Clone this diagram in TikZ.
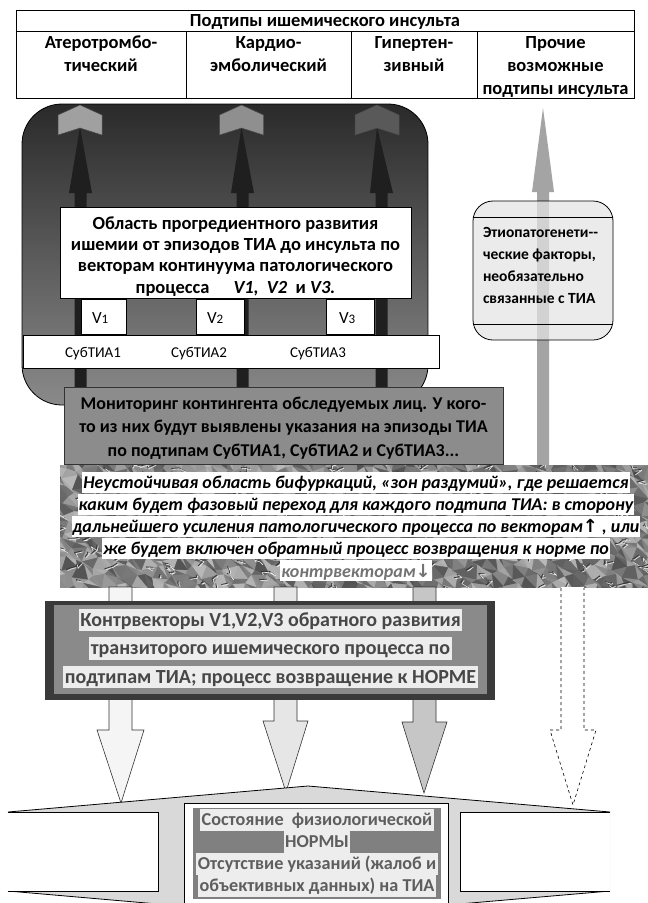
\documentclass[tikz,border=0pt]{standalone}
\usepackage{fontspec}
\setmainfont{Carlito}
\newfontfamily\arrowfont{DejaVu Sans}
\usetikzlibrary{calc}
\definecolor{darktop}{HTML}{2A2A2A}
\definecolor{darkbot}{HTML}{8A8A8A}
\definecolor{monfill}{HTML}{8C8C8C}
\definecolor{cvframe}{HTML}{3A3A3A}
\definecolor{cvfill}{HTML}{8A8A8A}
\definecolor{hlgray}{HTML}{EDEDED}
\definecolor{cvtext}{HTML}{474747}
\definecolor{normtext}{HTML}{5E5E5E}
\definecolor{normgray}{HTML}{808080}
\definecolor{beam}{HTML}{D9D9D9}
\definecolor{tallarrow}{HTML}{A4A4A4}
\definecolor{etiofill}{HTML}{E4E4E4}
\definecolor{chevA}{HTML}{A0A0A0}
\definecolor{chevB}{HTML}{8F8F8F}
\definecolor{chevC}{HTML}{595959}
\definecolor{arrA}{HTML}{F5F5F5}
\definecolor{arrB}{HTML}{E6E6E6}
\definecolor{arrC}{HTML}{C6C6C6}
\newcommand\fsz[2]{\fontsize{#1}{#2}\selectfont}
\newcommand\hlrock[1]{{\setlength\fboxsep{0pt}\colorbox{white}{\rule[-4.3pt]{0pt}{21pt}\hspace{1pt}#1\hspace{1pt}}}}
\newcommand\hlcv[1]{{\setlength\fboxsep{0pt}\colorbox{hlgray}{\rule[-4.8pt]{0pt}{22.5pt}\hspace{1.5pt}#1\hspace{1.5pt}}}}
\newcommand\hlnorm[1]{{\setlength\fboxsep{0pt}\colorbox{hlgray}{\rule[-5.5pt]{0pt}{22pt}\hspace{1.5pt}#1\hspace{1.5pt}}}}
\begin{document}
\begin{tikzpicture}[x=1pt,y=-1pt,
  every node/.style={inner sep=0pt, outer sep=0pt},
  cell/.style={anchor=north, align=center, font=\fsz{18.5}{23}\bfseries},
  whitebox/.style={draw, line width=0.8pt, fill=white},
  vlabel/.style={anchor=base west, font=\fsz{17}{17}},
  sublabel/.style={anchor=base, font=\fsz{15}{15}},
  thinline/.style={line width=0.8pt}]
\useasboundingbox (0,0) rectangle (648,903);
\fill[white] (0,0) rectangle (648,903);
\begin{scope}
\clip (0,0) rectangle (648,903);
% ---------- table ----------
\draw[thinline] (16,10) rectangle (634,98);
\draw[thinline] (16,31) -- (634,31) (186,31) -- (186,98) (351,31) -- (351,98) (477,31) -- (477,98);
\node[font=\fsz{18.5}{23}\bfseries, anchor=base] (hdr) at (325,26.5) {Подтипы ишемического инсульта};
\node[cell] (c1) at (101,31.9) {\strut Атеротромбо-\\тический};
\node[cell] (c2) at (268.5,31.9) {\strut Кардио-\\эмболический};
\node[cell] (c3) at (414,31.9) {\strut Гипертен-\\зивный};
\node[cell] (c4) at (555.5,31.9) {\strut Прочие\\возможные\\подтипы инсульта};
% ---------- tall gray arrow and etiopathogenetic box ----------
\fill[tallarrow] (543,108) -- (554,192) -- (549,192) -- (549,465) -- (537,465) -- (537,192) -- (532,192) -- cycle;
\filldraw[fill=etiofill, fill opacity=0.72, draw=black, thinline, rounded corners=20pt] (473,201) rectangle (613,340);
\draw[thinline] (473.4,217) -- (612.6,217) (473.4,324) -- (612.6,324);
\node[anchor=north west, align=left, font=\fsz{15.5}{22}\bfseries] (etio) at (483,221.6) {\strut Этиопатогенети-{}-\\ческие факторы,\\необязательно\\связанные с ТИА};
% ---------- dark rounded region ----------
\shade[top color=darktop, bottom color=darkbot, rounded corners=40pt] (22,104) rectangle (428,405);
\draw[thinline, rounded corners=40pt] (22,104) rectangle (428,405);
\foreach \cx/\sx in {80/80.5, 241.5/242.5, 377/381.5} {
  \fill[black!88] (\cx,127) -- (\sx+11.5,193) -- (\sx+6,193) -- (\sx+6,405) -- (\sx-6,405) -- (\sx-6,193) -- (\sx-11.5,193) -- cycle;
}
\foreach \cx/\col in {80/chevA, 241.5/chevB, 377/chevC} {
  \filldraw[fill=\col, draw=black!70, line width=0.5pt] (\cx,105) -- (\cx+22,115) -- (\cx+22,135) -- (\cx,128) -- (\cx-22,135) -- (\cx-22,115) -- cycle;
}
\node[whitebox, minimum width=351pt, minimum height=91pt] (obl) at (235.5,252.5) {};
\node[anchor=north, align=center, font=\fsz{18.5}{21.3}\bfseries] (obltext) at (235.5,214.4)
  {\strut Область прогредиентного развития\\ишемии от эпизодов ТИА до инсульта по\\векторам континуума патологического\\процесса\hspace{1.3em}\textit{V1,\ \ V2}\ \ и \textit{V3.}};
\node[whitebox, minimum width=45pt, minimum height=35pt] (v1) at (103.5,316.5) {};
\node[whitebox, minimum width=48pt, minimum height=35pt] (v2) at (220,316.5) {};
\node[whitebox, minimum width=48pt, minimum height=35pt] (v3) at (350,316.5) {};
\node[vlabel] (v1t) at (92,323.5) {V{\fsz{13}{13}1}};
\node[vlabel] (v2t) at (207,323.5) {V{\fsz{13}{13}2}};
\node[vlabel] (v3t) at (339,323.5) {V{\fsz{13}{13}3}};
\node[whitebox, minimum width=416pt, minimum height=33pt] (subbar) at (231,351.5) {};
\node[sublabel] (s1) at (93,357) {СубТИА1};
\node[sublabel] (s2) at (199,357) {СубТИА2};
\node[sublabel] (s3) at (318,357) {СубТИА3};
% ---------- monitoring ----------
\node[draw=black!80, thinline, fill=monfill, minimum width=439pt, minimum height=77pt] (mon) at (283.5,425.5) {};
\node[anchor=north, align=center, font=\fsz{18}{23.5}\bfseries] (montext) at (283.5,392.8)
  {\strut Мониторинг контингента обследуемых лиц. У кого-\\то из них будут выявлены указания на эпизоды ТИА\\по подтипам СубТИА1, СубТИА2 и СубТИА3...};
% ---------- rock band (crumpled texture) ----------
\begin{scope}
\clip (60,465) rectangle (648,587);
\fill[black!50] (60,465) rectangle (648,587);
\pgfmathsetseed{42}
\foreach \i in {0,...,60}{
  \foreach \j in {0,...,14}{
    \pgfmathsetmacro\xa{55+10*\i+3.5*sin(\i*137.3+\j*251.1)}
    \pgfmathsetmacro\ya{460+9*\j+3*cos(\i*91.7+\j*173.9)}
    \pgfmathsetmacro\xb{55+10*(\i+1)+3.5*sin((\i+1)*137.3+\j*251.1)}
    \pgfmathsetmacro\yb{460+9*\j+3*cos((\i+1)*91.7+\j*173.9)}
    \pgfmathsetmacro\xc{55+10*\i+3.5*sin(\i*137.3+(\j+1)*251.1)}
    \pgfmathsetmacro\yc{460+9*(\j+1)+3*cos(\i*91.7+(\j+1)*173.9)}
    \pgfmathsetmacro\xd{55+10*(\i+1)+3.5*sin((\i+1)*137.3+(\j+1)*251.1)}
    \pgfmathsetmacro\yd{460+9*(\j+1)+3*cos((\i+1)*91.7+(\j+1)*173.9)}
    \pgfmathtruncatemacro\ga{28+40*rnd}
    \pgfmathtruncatemacro\gb{28+40*rnd}
    \filldraw[fill=black!\ga, draw=black!\ga, line width=0.3pt] (\xa,\ya) -- (\xb,\yb) -- (\xd,\yd) -- cycle;
    \filldraw[fill=black!\gb, draw=black!\gb, line width=0.3pt] (\xa,\ya) -- (\xd,\yd) -- (\xc,\yc) -- cycle;
  }
}
\foreach \k in {1,...,260}{
  \pgfmathsetmacro\xa{55+600*rnd}
  \pgfmathsetmacro\ya{460+132*rnd}
  \pgfmathsetmacro\dxa{-8+16*rnd}
  \pgfmathsetmacro\dya{-5+10*rnd}
  \pgfmathsetmacro\dxb{-8+16*rnd}
  \pgfmathsetmacro\dyb{-5+10*rnd}
  \draw[black!78, line width=0.8pt, line join=round, line cap=round] (\xa,\ya) -- ++(\dxa,\dya) -- ++(\dxb,\dyb);
  \draw[white!85!gray, line width=0.6pt, line join=round, line cap=round] (\xa+1.2,\ya+1) -- ++(\dxa,\dya) -- ++(\dxb,\dyb);
}
\end{scope}
\node[anchor=north, align=center, font=\fsz{18}{22.2}\bfseries\itshape] (bif) at (356,471.6)
  {\hlrock{Неустойчивая область бифуркаций, «зон раздумий», где решается}\\
   \hlrock{каким будет фазовый переход для каждого подтипа ТИА: в сторону}\\
   \hlrock{дальнейшего усиления патологического процесса по векторам{\arrowfont ↑} , или}\\
   \hlrock{же будет включен обратный процесс возвращения к норме по}\\
   \hlrock{\textcolor{black!55}{контрвекторам{\arrowfont ↓}}}};
% ---------- down arrows ----------
\foreach \l/\r/\ha/\hb/\hy/\tx/\ty/\col in {109/132/97/144/730/121/803/arrA, 274/297/263/308/721/286/792/arrB, 413/436/402/447/722/424/793/arrC} {
  \filldraw[fill=\col, draw=black!80, line width=0.6pt, line join=miter] (\l,587) -- (\r,587) -- (\r,\hy) -- (\hb,\hy) -- (\tx,\ty) -- (\ha,\hy) -- (\l,\hy) -- cycle;
}
\fill[white] (561,587) -- (584,587) -- (584,730) -- (596,730) -- (573,805) -- (550,730) -- (561,730) -- cycle;
\draw[black, dashed, line width=0.6pt] (561,588) -- (561,730) -- (550,730) -- (573,805) -- (596,730) -- (584,730) -- (584,588);
% ---------- contrvectors ----------
\node[fill=cvframe, minimum width=450pt, minimum height=99pt] (cvbox) at (270,650.5) {};
\node[fill=cvfill, minimum width=433pt, minimum height=89pt] (cvinner) at (270.5,649.5) {};
\node[anchor=north, align=center, font=\fsz{20}{28.5}\bfseries, text=cvtext] (cvtext) at (270.5,608.7)
  {\hlcv{Контрвекторы V1,V2,V3 обратного развития}\\
   \hlcv{транзиторого ишемического процесса по}\\
   \hlcv{подтипам ТИА; процесс возвращение к НОРМЕ}};
% ---------- bottom beam ----------
\fill[beam] (8,812) -- (308,786) -- (610,812) -- (610,891) -- (308,917) -- (8,891) -- cycle;
\draw[thinline] (8,812) -- (308,786) -- (610,812);
\draw[thinline] (8,891) -- (308,917) -- (610,891);
\fill[white] (8,812) rectangle (158,891);
\draw[thinline] (8,812) -- (158,812) -- (158,891) -- (8,891);
\fill[white] (460,812) rectangle (610,891);
\draw[thinline] (610,812) -- (460,812) -- (460,891) -- (610,891);
\node[whitebox, anchor=north west, minimum width=264pt, minimum height=110pt] (normbox) at (184,803) {};
\fill[normgray] (193,808) rectangle (441,899);
\node[anchor=north, align=center, font=\fsz{18.2}{22}\bfseries, text=normtext] (normtext) at (317,809.1)
  {\hlnorm{Состояние\ \ физиологической}\\
   \hlnorm{НОРМЫ}\\
   \hlnorm{Отсутствие указаний (жалоб и}\\
   \hlnorm{объективных данных) на ТИА}};
\end{scope}
\end{tikzpicture}
\end{document}
